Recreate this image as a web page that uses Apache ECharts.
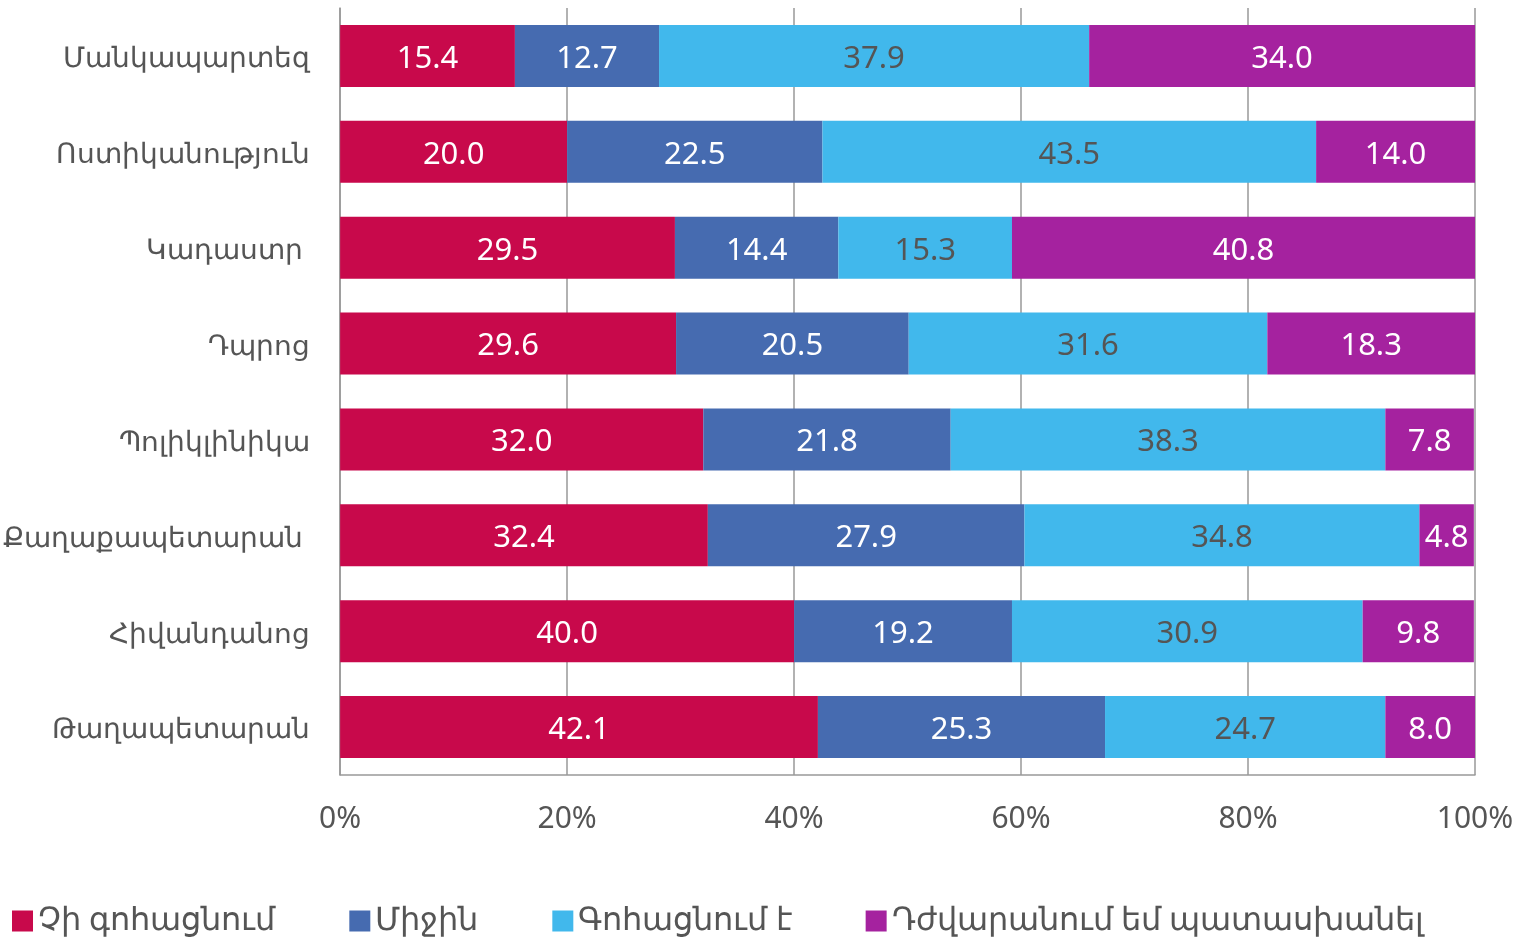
<!DOCTYPE html>
<html>
<head>
<meta charset="utf-8">
<script src="https://cdn.jsdelivr.net/npm/echarts@6/dist/echarts.min.js"></script>
<style>html,body{margin:0;padding:0;background:#fff}#c{width:1528px;height:944px}</style>
</head>
<body>
<div id="c"></div>
<script>
const categories = ["Մանկապարտեզ", "Ոստիկանություն", "Կադաստր ", "Դպրոց", "Պոլիկլինիկա", "Քաղաքապետարան ", "Հիվանդանոց", "Թաղապետարան"];
const seriesNames = ["Չի գոհացնում", "Միջին", "Գոհացնում է", "Դժվարանում եմ պատասխանել"];
const notSatisfied = [15.4, 20.0, 29.5, 29.6, 32.0, 32.4, 40.0, 42.1];
const average = [12.7, 22.5, 14.4, 20.5, 21.8, 27.9, 19.2, 25.3];
const satisfied = [37.9, 43.5, 15.3, 31.6, 38.3, 34.8, 30.9, 24.7];
const hardToAnswer = [34.0, 14.0, 40.8, 18.3, 7.8, 4.8, 9.8, 8.0];
const xTicks = ["0%", "20%", "40%", "60%", "80%", "100%"];

const colors = ["#C8094B", "#466BB0", "#41B8EC", "#A5229F"];
const labelColors = ["#ffffff", "#ffffff", "#555555", "#ffffff"];
const values = [notSatisfied, average, satisfied, hardToAnswer];
const FONT = "Noto Sans";

const chart = echarts.init(document.getElementById('c'));
chart.setOption({
  animation: false,
  textStyle: { fontFamily: FONT },
  grid: { left: 339, right: 53, top: 8, bottom: 169, containLabel: false },
  legend: {
    left: 7, bottom: 2,
    itemWidth: 21, itemHeight: 21, itemGap: 74,
    icon: 'rect',
    textStyle: { fontSize: 32, color: '#555', fontFamily: FONT },
    data: seriesNames
  },
  xAxis: {
    type: 'value', min: 0, max: 100, interval: 20,
    axisLine: { show: true, lineStyle: { color: '#999', width: 1.5 } },
    axisTick: { show: false },
    splitLine: { show: true, lineStyle: { color: '#999', width: 1.5 } },
    axisLabel: {
      fontSize: 30, color: '#555', margin: 29,
      formatter: v => xTicks[v / 20]
    }
  },
  yAxis: {
    type: 'category', data: categories, inverse: true,
    axisLine: { show: true, lineStyle: { color: '#999', width: 1.5 } },
    axisTick: { show: false },
    axisLabel: {
      color: '#555', margin: 30,
      formatter: v => '{a|' + v + '}',
      rich: { a: { fontSize: 27.5, color: '#555', fontFamily: FONT, padding: [7, 0, 0, 0] } }
    }
  },
  series: seriesNames.map((name, i) => ({
    name, type: 'bar', stack: 'total', barWidth: 62,
    itemStyle: { color: colors[i] },
    label: {
      show: true, position: 'inside', fontSize: 31, offset: [0, 3],
      color: labelColors[i], fontFamily: FONT,
      formatter: p => p.value.toFixed(1)
    },
    data: values[i]
  }))
});
</script>
</body>
</html>
